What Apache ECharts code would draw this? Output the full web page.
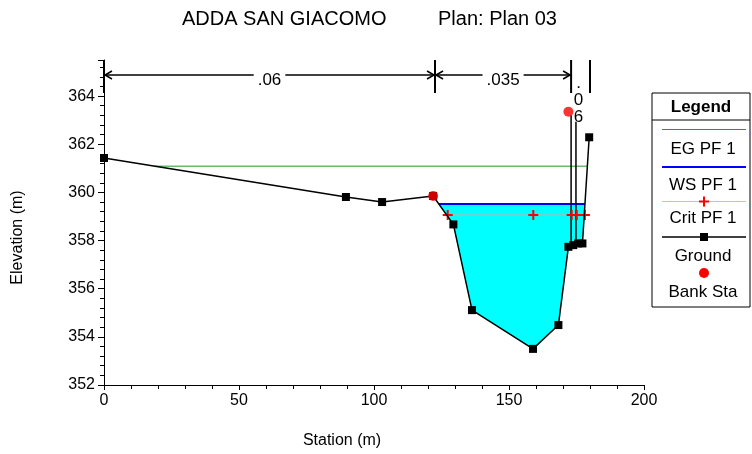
<!DOCTYPE html>
<html>
<head>
<meta charset="utf-8">
<script src="https://cdn.jsdelivr.net/npm/echarts@6/dist/echarts.min.js"></script>
<style>html,body{margin:0;padding:0;background:#fff;}#c{width:752px;height:454px;}</style>
</head>
<body>
<div id="c"></div>
<script>
// ---- data ----
var groundSta  = [0, 89.6, 103.0, 121.9, 129.4, 136.3, 158.9, 168.3, 172.0, 173.8, 175.6, 177.2, 179.7];
var groundElev = [361.43, 359.81, 359.60, 359.85, 358.67, 355.11, 353.50, 354.49, 357.74, 357.81, 357.88, 357.88, 362.29];
var wsSta  = [124.0, 178.13];
var wsElev = [359.52, 359.52];
var egSta  = [18.8, 179.02];
var egElev = [361.09, 361.09];
var critSta  = [127.3, 159.0, 173.2, 175.1, 178.1];
var critElev = [359.06, 359.06, 359.06, 359.06, 359.06];
var bankSta  = [121.9, 172.0];
var bankElev = [359.85, 363.35];
var wall1Sta = [173.0, 173.0];
var wall1Elev = [357.78, 363.2];
var wall2Sta = [174.8, 174.8];
var wall2Elev = [357.84, 362.93];
var nBreaks = [0, 122.6, 173.0, 180.0];
var nValues = ['.06', '.035', '.06'];
var xTicks = [0, 50, 100, 150, 200];
var yTicks = [352, 354, 356, 358, 360, 362, 364];

function pairs(a, b) { return a.map(function (v, i) { return [v, b[i]]; }); }

var FONT = 'Liberation Sans, Arial, sans-serif';
var chart = echarts.init(document.getElementById('c'), null, {renderer: 'canvas'});

var plusPath = 'path://M4,0 L6,0 L6,4 L10,4 L10,6 L6,6 L6,10 L4,10 L4,6 L0,6 L0,4 L4,4 Z';
var LF = 17;

var option = {
  backgroundColor: '#ffffff',
  animation: false,
  textStyle: {fontFamily: FONT},
  grid: {left: 104, right: 108, top: 60, bottom: 69, containLabel: false},
  xAxis: {
    type: 'value', min: xTicks[0], max: xTicks[xTicks.length - 1], interval: 50,
    name: 'Station (m)', nameLocation: 'middle', nameGap: 48,
    nameTextStyle: {color: '#000', fontSize: 16, fontFamily: FONT, padding: [0, 64, 0, 0]},
    axisLine: {show: true, onZero: false, lineStyle: {color: '#000', width: 1}},
    axisTick: {show: true, length: 5, lineStyle: {color: '#000'}},
    minorTick: {show: true, splitNumber: 5, length: 4, lineStyle: {color: '#000'}},
    axisLabel: {color: '#000', fontSize: 16, margin: 8, fontFamily: FONT},
    splitLine: {show: false}
  },
  yAxis: {
    type: 'value', min: yTicks[0], max: 365.5, interval: 2,
    name: 'Elevation (m)', nameLocation: 'middle', nameGap: 78, nameRotate: 90,
    nameTextStyle: {color: '#000', fontSize: 16, fontFamily: FONT, padding: [0, 30, 0, 0]},
    axisLine: {show: true, onZero: false, lineStyle: {color: '#000', width: 1}},
    axisTick: {show: true, length: 6, lineStyle: {color: '#000'}},
    minorTick: {show: true, splitNumber: 5, length: 4, lineStyle: {color: '#000'}},
    axisLabel: {color: '#000', fontSize: 16, margin: 9, fontFamily: FONT, showMaxLabel: false},
    splitLine: {show: false}
  },
  graphic: [
    {type: 'text', left: 182, top: 9, style: {text: 'ADDA SAN GIACOMO', fontSize: 20, fontFamily: FONT, fill: '#000'}},
    {type: 'text', left: 438, top: 9, style: {text: 'Plan: Plan 03', fontSize: 20, fontFamily: FONT, fill: '#000'}},
    // legend box
    {type: 'rect', shape: {x: 652, y: 93, width: 98, height: 214}, style: {fill: '#fff', stroke: '#000', lineWidth: 1}, z: 10},
    {type: 'text', x: 701, y: 107, style: {text: 'Legend', fontSize: LF, fontWeight: 'bold', fontFamily: FONT, fill: '#000', align: 'center', verticalAlign: 'middle'}, z: 11},
    {type: 'line', shape: {x1: 652, y1: 120, x2: 750, y2: 120}, style: {stroke: '#000', lineWidth: 1}, z: 11},
    {type: 'line', shape: {x1: 662, y1: 129.5, x2: 746, y2: 129.5}, style: {stroke: '#1c9c1c', lineWidth: 1}, z: 11},
    {type: 'text', x: 703, y: 149, style: {text: 'EG PF 1', fontSize: LF, fontFamily: FONT, fill: '#000', align: 'center', verticalAlign: 'middle'}, z: 11},
    {type: 'line', shape: {x1: 662, y1: 167, x2: 746, y2: 167}, style: {stroke: '#0000ff', lineWidth: 2}, z: 11},
    {type: 'text', x: 703, y: 185, style: {text: 'WS PF 1', fontSize: LF, fontFamily: FONT, fill: '#000', align: 'center', verticalAlign: 'middle'}, z: 11},
    {type: 'line', shape: {x1: 662, y1: 201.5, x2: 746, y2: 201.5}, style: {stroke: '#ffaaaa', lineWidth: 1}, z: 11},
    {type: 'line', shape: {x1: 699, y1: 201.5, x2: 709, y2: 201.5}, style: {stroke: '#ff0000', lineWidth: 2}, z: 12},
    {type: 'line', shape: {x1: 704, y1: 196.5, x2: 704, y2: 206.5}, style: {stroke: '#ff0000', lineWidth: 2}, z: 12},
    {type: 'text', x: 703, y: 218, style: {text: 'Crit PF 1', fontSize: LF, fontFamily: FONT, fill: '#000', align: 'center', verticalAlign: 'middle'}, z: 11},
    {type: 'line', shape: {x1: 662, y1: 237, x2: 746, y2: 237}, style: {stroke: '#000', lineWidth: 1.5}, z: 11},
    {type: 'rect', shape: {x: 700, y: 233, width: 8, height: 8}, style: {fill: '#000'}, z: 12},
    {type: 'text', x: 703, y: 256, style: {text: 'Ground', fontSize: LF, fontFamily: FONT, fill: '#000', align: 'center', verticalAlign: 'middle'}, z: 11},
    {type: 'circle', shape: {cx: 704, cy: 273, r: 5}, style: {fill: '#ff0000'}, z: 12},
    {type: 'text', x: 703, y: 292, style: {text: 'Bank Sta', fontSize: LF, fontFamily: FONT, fill: '#000', align: 'center', verticalAlign: 'middle'}, z: 11}
  ],
  series: [
    {
      name: 'Water', type: 'custom', z: 1, silent: true,
      data: [0],
      renderItem: function (params, api) {
        var pts = [api.coord([wsSta[0], wsElev[0]])];
        for (var i = 0; i < groundSta.length; i++) {
          if (groundSta[i] > wsSta[0] && groundSta[i] < wsSta[1]) pts.push(api.coord([groundSta[i], groundElev[i]]));
        }
        pts.push(api.coord([wsSta[1], wsElev[1]]));
        return {type: 'polygon', shape: {points: pts}, style: {fill: '#00ffff', stroke: null}};
      }
    },
    {
      name: 'EG PF 1', type: 'line', z: 3, data: pairs(egSta, egElev), showSymbol: false, symbol: 'none',
      lineStyle: {color: '#1c9c1c', width: 1}
    },
    {
      name: 'WS PF 1', type: 'line', z: 3, data: pairs(wsSta, wsElev), symbol: 'none',
      lineStyle: {color: '#0000ff', width: 2}
    },
    {
      name: 'Crit PF 1', type: 'line', z: 4, data: pairs(critSta, critElev), symbol: plusPath, symbolSize: 10,
      itemStyle: {color: '#ff0000'}, lineStyle: {color: '#e6a0a0', width: 1}
    },
    {
      name: 'Wall1', type: 'line', z: 4, data: pairs(wall1Sta, wall1Elev), symbol: 'none',
      lineStyle: {color: '#000', width: 1.5}
    },
    {
      name: 'Wall2', type: 'line', z: 4, data: pairs(wall2Sta, wall2Elev), symbol: 'none',
      lineStyle: {color: '#000', width: 1.5}
    },
    {
      name: 'Ground', type: 'line', z: 5, data: pairs(groundSta, groundElev), symbol: 'rect', symbolSize: 8,
      itemStyle: {color: '#000'}, lineStyle: {color: '#000', width: 1.5}
    },
    {
      name: 'Bank Sta', type: 'scatter', z: 6, data: pairs(bankSta, bankElev), symbol: 'circle', symbolSize: 10,
      itemStyle: {color: '#ff0000'}
    },
    {
      name: 'n values', type: 'custom', z: 7, silent: true, clip: false,
      data: [0],
      renderItem: function (params, api) {
        var cs = params.coordSys;
        var top = cs.y, bot = cs.y + 33, ay = cs.y + 15;
        var xs = nBreaks.map(function (s) { return api.coord([s, yTicks[0]])[0]; });
        var children = [];
        xs.forEach(function (x) {
          children.push({type: 'line', shape: {x1: x, y1: top, x2: x, y2: bot}, style: {stroke: '#000', lineWidth: 2}});
        });
        for (var i = 0; i < nValues.length; i++) {
          var x0 = xs[i], x1 = xs[i + 1], mid = (x0 + x1) / 2;
          if (x1 - x0 > 60) {
            children.push({type: 'line', shape: {x1: x0, y1: ay, x2: x1, y2: ay}, style: {stroke: '#000', lineWidth: 1.5}});
            children.push({type: 'polyline', shape: {points: [[x0 + 8, ay - 4], [x0 + 1, ay], [x0 + 8, ay + 4]]}, style: {stroke: '#000', lineWidth: 1.5, fill: null}});
            children.push({type: 'polyline', shape: {points: [[x1 - 8, ay - 4], [x1 - 1, ay], [x1 - 8, ay + 4]]}, style: {stroke: '#000', lineWidth: 1.5, fill: null}});
            children.push({type: 'text', x: mid, y: ay + 5, style: {text: nValues[i], fontSize: 17, fontFamily: FONT, fill: '#000', align: 'center', verticalAlign: 'middle', backgroundColor: '#fff', padding: [0, 4]}});
          } else {
            children.push({type: 'text', x: mid - 2, y: ay + 25, style: {text: nValues[i].split('').join('\n'), fontSize: 17, lineHeight: 17, fontFamily: FONT, fill: '#000', align: 'center', verticalAlign: 'middle'}});
          }
        }
        return {type: 'group', children: children};
      }
    }
  ]
};
chart.setOption(option);
</script>
</body>
</html>
